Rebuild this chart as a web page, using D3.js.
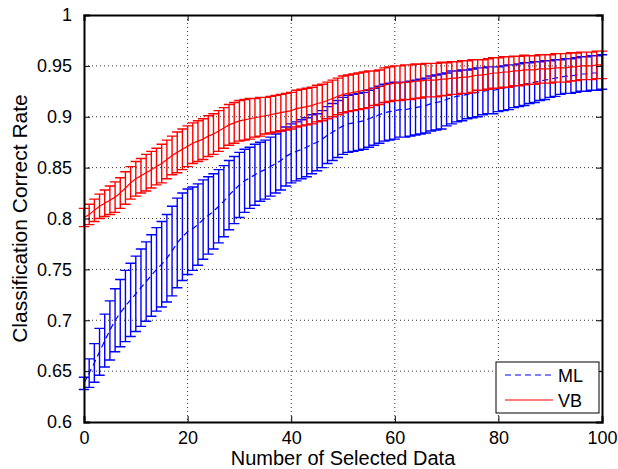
<!DOCTYPE html>
<html lang="en">
<head>
  <meta charset='utf-8'>
  <title>Classification Correct Rate</title>
  <style>
    html, body { margin: 0; padding: 0; background: #fff; }
    svg { display: block; font-family: "Liberation Sans", Arial, Helvetica, sans-serif; }
  </style>
</head>
<body>
  <div id="chart"></div>

<script src="https://cdn.jsdelivr.net/npm/d3@7"></script>
<script>
    ////////////////////////////////////////////////// DATA
    var xValues = d3.range(0, 101);

    var mlMean = [
      0.638,0.648,0.658,0.669,0.680,0.690,0.700,0.707,0.714,0.720,
      0.726,0.732,0.738,0.744,0.750,0.755,0.761,0.768,0.776,0.782,
      0.787,0.790,0.794,0.799,0.803,0.807,0.812,0.817,0.823,0.828,
      0.833,0.837,0.840,0.843,0.846,0.848,0.851,0.854,0.857,0.861,
      0.864,0.866,0.868,0.870,0.873,0.875,0.878,0.882,0.885,0.888,
      0.891,0.893,0.894,0.895,0.896,0.898,0.900,0.902,0.904,0.905,
      0.906,0.907,0.907,0.908,0.909,0.910,0.911,0.913,0.914,0.915,
      0.917,0.919,0.920,0.921,0.922,0.923,0.924,0.925,0.926,0.926,
      0.927,0.928,0.929,0.930,0.931,0.932,0.933,0.934,0.935,0.936,
      0.937,0.938,0.939,0.940,0.940,0.941,0.942,0.942,0.943,0.943,
      0.944
    ];
    var mlErr = [
      0.006,0.014,0.019,0.023,0.026,0.029,0.031,0.033,0.035,0.036,
      0.037,0.038,0.039,0.040,0.041,0.042,0.043,0.044,0.044,0.043,
      0.042,0.041,0.040,0.039,0.038,0.037,0.036,0.035,0.034,0.033,
      0.032,0.031,0.030,0.030,0.029,0.029,0.029,0.029,0.029,0.029,
      0.029,0.029,0.029,0.029,0.029,0.028,0.028,0.028,0.028,0.028,
      0.028,0.028,0.028,0.028,0.028,0.028,0.028,0.028,0.028,0.028,
      0.028,0.027,0.027,0.027,0.027,0.027,0.027,0.027,0.027,0.027,
      0.026,0.026,0.025,0.025,0.024,0.024,0.024,0.023,0.023,0.023,
      0.022,0.022,0.022,0.021,0.021,0.021,0.020,0.020,0.019,0.019,
      0.018,0.018,0.017,0.017,0.017,0.017,0.017,0.017,0.017,0.017,
      0.017
    ];

    var vbMean = [
      0.801,0.804,0.808,0.812,0.815,0.818,0.821,0.825,0.830,0.835,
      0.839,0.842,0.845,0.848,0.851,0.854,0.858,0.862,0.865,0.868,
      0.871,0.874,0.876,0.878,0.881,0.883,0.886,0.889,0.892,0.894,
      0.896,0.897,0.898,0.899,0.900,0.901,0.902,0.903,0.904,0.905,
      0.906,0.908,0.909,0.910,0.911,0.913,0.914,0.916,0.918,0.920,
      0.922,0.923,0.924,0.925,0.926,0.927,0.928,0.929,0.931,0.932,
      0.933,0.933,0.934,0.934,0.935,0.935,0.936,0.936,0.936,0.937,
      0.937,0.938,0.938,0.939,0.939,0.940,0.941,0.941,0.942,0.943,
      0.943,0.944,0.944,0.945,0.945,0.946,0.946,0.946,0.947,0.947,
      0.947,0.948,0.948,0.948,0.949,0.949,0.950,0.950,0.950,0.951,
      0.951
    ];
    var vbErr = [
      0.009,0.010,0.011,0.012,0.013,0.014,0.015,0.015,0.016,0.016,
      0.017,0.017,0.018,0.018,0.018,0.019,0.019,0.019,0.020,0.020,
      0.020,0.020,0.020,0.020,0.020,0.020,0.020,0.020,0.020,0.020,
      0.020,0.020,0.020,0.019,0.019,0.018,0.018,0.018,0.018,0.018,
      0.018,0.018,0.018,0.018,0.018,0.018,0.018,0.018,0.018,0.018,
      0.018,0.018,0.018,0.018,0.018,0.018,0.017,0.017,0.017,0.017,
      0.017,0.017,0.017,0.017,0.017,0.0165,0.0165,0.0165,0.0165,0.0165,
      0.016,0.016,0.016,0.016,0.016,0.016,0.015,0.015,0.015,0.015,
      0.015,0.015,0.015,0.0145,0.0145,0.0145,0.014,0.014,0.014,0.014,
      0.014,0.014,0.014,0.014,0.014,0.0135,0.0135,0.0135,0.0135,0.0135,
      0.0135
    ];

    var xTicks = [0, 20, 40, 60, 80, 100];
    var yTicks = [0.6, 0.65, 0.7, 0.75, 0.8, 0.85, 0.9, 0.95, 1];
    var yTickLabels = ["0.6", "0.65", "0.7", "0.75", "0.8", "0.85", "0.9", "0.95", "1"];

    var seriesNames = ["ML", "VB"];
    var seriesColors = ["#0000ff", "#ff0000"];

    ////////////////////////////////////////////////// SETUP
    var width = 618, height = 469;
    var margin = {top: 15, right: 16, bottom: 47, left: 84};
    var plotW = width - margin.left - margin.right;
    var plotH = height - margin.top - margin.bottom;

    var x = d3.scaleLinear().domain([0, 100]).range([0, plotW]);
    var y = d3.scaleLinear().domain([0.6, 1]).range([plotH, 0]);

    var svg = d3.select("#chart").append("svg")
        .attr("width", width)
        .attr("height", height);

    var g = svg.append("g")
        .attr("transform", "translate(" + margin.left + "," + margin.top + ")");

    // grid (dotted, MATLAB style)
    g.append("g").selectAll("line")
        .data(xTicks.slice(1, -1))
        .join("line")
        .attr("x1", d => x(d)).attr("x2", d => x(d))
        .attr("y1", 0).attr("y2", plotH)
        .attr("stroke", "#333").attr("stroke-width", 1)
        .attr("stroke-dasharray", "1,3");

    g.append("g").selectAll("line")
        .data(yTicks.slice(1, -1))
        .join("line")
        .attr("x1", 0).attr("x2", plotW)
        .attr("y1", d => y(d)).attr("y2", d => y(d))
        .attr("stroke", "#333").attr("stroke-width", 1)
        .attr("stroke-dasharray", "1,3");

    // error bars + mean lines
    var tee = 1; // cap half-width in data units
    var series = [
      {mean: mlMean, err: mlErr, color: seriesColors[0], dash: "6,4"},
      {mean: vbMean, err: vbErr, color: seriesColors[1], dash: null}
    ];

    series.forEach(function(s) {
      var eb = g.append("g")
          .attr("stroke", s.color)
          .attr("stroke-width", 1.4)
          .attr("fill", "none");

      var path = d3.path();
      xValues.forEach(function(xv, i) {
        var lo = y(s.mean[i] - s.err[i]), hi = y(s.mean[i] + s.err[i]);
        path.moveTo(x(xv), lo); path.lineTo(x(xv), hi);
        path.moveTo(x(xv - tee), lo); path.lineTo(x(xv + tee), lo);
        path.moveTo(x(xv - tee), hi); path.lineTo(x(xv + tee), hi);
      });
      eb.append("path").attr("d", path.toString());

      var line = d3.line()
          .x((d, i) => x(xValues[i]))
          .y(d => y(d));

      g.append("path")
          .datum(s.mean)
          .attr("fill", "none")
          .attr("stroke", s.color)
          .attr("stroke-width", 1.2)
          .attr("stroke-dasharray", s.dash)
          .attr("d", line);
    });

    // axes with inward ticks on all sides
    var fontSize = 18;
    var xAxis = g.append("g")
        .attr("transform", "translate(0," + plotH + ")")
        .call(d3.axisBottom(x).tickValues(xTicks).tickSize(-6).tickPadding(9).tickFormat(d3.format("d")));
    var xAxisTop = g.append("g")
        .call(d3.axisTop(x).tickValues(xTicks).tickSize(-6).tickFormat(""));
    var yAxis = g.append("g")
        .call(d3.axisLeft(y).tickValues(yTicks).tickSize(-6).tickPadding(12)
          .tickFormat((d, i) => yTickLabels[i]));
    var yAxisRight = g.append("g")
        .attr("transform", "translate(" + plotW + ",0)")
        .call(d3.axisRight(y).tickValues(yTicks).tickSize(-6).tickFormat(""));

    [xAxis, xAxisTop, yAxis, yAxisRight].forEach(function(a) {
      a.select(".domain").attr("stroke", "#000").attr("stroke-width", 2);
      a.selectAll(".tick line").attr("stroke", "#000").attr("stroke-width", 1);
      a.selectAll("text")
          .attr("fill", "#000")
          .attr("font-size", fontSize)
          .attr("font-family", "'Liberation Sans', Arial, sans-serif");
    });

    // axis labels
    svg.append("text")
        .attr("x", margin.left + plotW / 2)
        .attr("y", 465)
        .attr("text-anchor", "middle")
        .attr("font-size", 20)
        .text("Number of Selected Data");

    svg.append("text")
        .attr("transform", "translate(27," + (margin.top + plotH / 2) + ") rotate(-90)")
        .attr("text-anchor", "middle")
        .attr("font-size", 21)
        .text("Classification Correct Rate");

    // legend
    var leg = svg.append("g").attr("transform", "translate(496,362)");
    leg.append("rect")
        .attr("width", 103).attr("height", 51)
        .attr("fill", "#fff").attr("stroke", "#000").attr("stroke-width", 1);

    seriesNames.forEach(function(name, i) {
      var ly = 13 + i * 25;
      leg.append("line")
          .attr("x1", 9).attr("x2", 57)
          .attr("y1", ly).attr("y2", ly)
          .attr("stroke", seriesColors[i])
          .attr("stroke-width", 1.2)
          .attr("stroke-dasharray", series[i].dash);
      leg.append("text")
          .attr("x", 62).attr("y", ly + 7)
          .attr("font-size", fontSize)
          .text(name);
    });
</script>
</body>
</html>
